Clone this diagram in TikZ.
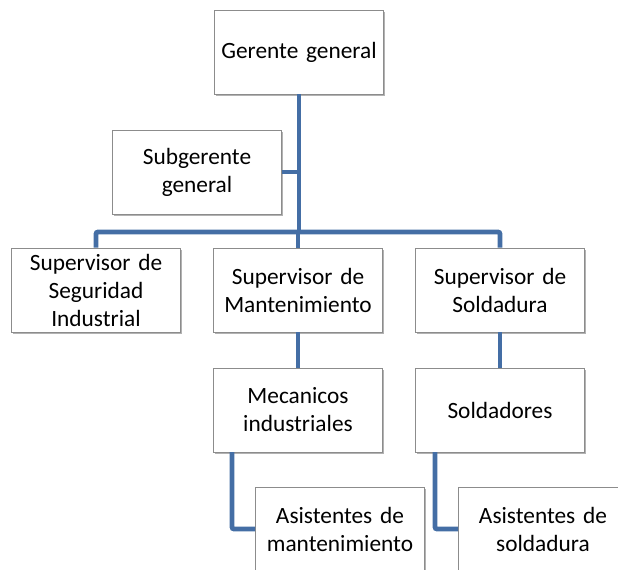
\documentclass[tikz,border=0pt]{standalone}
\usepackage{fontspec}
\setmainfont{Carlito}
\usepackage{tikz}
\usetikzlibrary{positioning, shadows}
\definecolor{linkblue}{RGB}{68, 110, 165}
\definecolor{boxgray}{RGB}{140, 140, 140}

\begin{document}
\begin{tikzpicture}[
    x=0.75pt, y=-0.75pt,
    puesto/.style={draw=boxgray, line width=0.6pt, fill=white,
        minimum width=126pt, minimum height=63pt, text width=120pt,
        inner ysep=1pt, align=center, font=\fontsize{17.5}{21}\selectfont,
        drop shadow={shadow xshift=1.2pt, shadow yshift=-1.5pt, fill=black, opacity=0.3}},
    enlace/.style={draw=linkblue, line width=3.6pt, rounded corners=1.5pt}
]
    \clip (0,0) rectangle (618,569);

    \node[puesto] (ger) at (299,52) {Gerente general};
    \node[puesto] (sub) at (197,172) {Subgerente\\general};
    \node[puesto] (seg) at (96,290) {Supervisor de\\Seguridad\\Industrial};
    \node[puesto] (man) at (298,290) {Supervisor de\\Mantenimiento};
    \node[puesto] (sol) at (500,290) {Supervisor de\\Soldadura};
    \node[puesto] (mec) at (298,410) {Mecanicos\\industriales};
    \node[puesto] (sdr) at (500,410) {Soldadores};
    \node[puesto] (asm) at (340,529) {Asistentes de\\mantenimiento};
    \node[puesto] (ass) at (543,529) {Asistentes de\\soldadura};

    \coordinate (bar) at (299,232);
    \coordinate (bajamec) at (232,452);
    \coordinate (bajasdr) at (435,452);

    \draw[enlace] (ger.south) -- (bar);
    \draw[enlace] (sub.east) -- (sub.east -| ger.south);
    \draw[enlace] (seg.north) |- (bar) -| (sol.north);
    \draw[enlace] (man.north) -- (man.north |- bar);
    \draw[enlace] (man.south) -- (mec.north);
    \draw[enlace] (sol.south) -- (sdr.north);
    \draw[enlace] (bajamec) |- (asm.west);
    \draw[enlace] (bajasdr) |- (ass.west);
\end{tikzpicture}
\end{document}
